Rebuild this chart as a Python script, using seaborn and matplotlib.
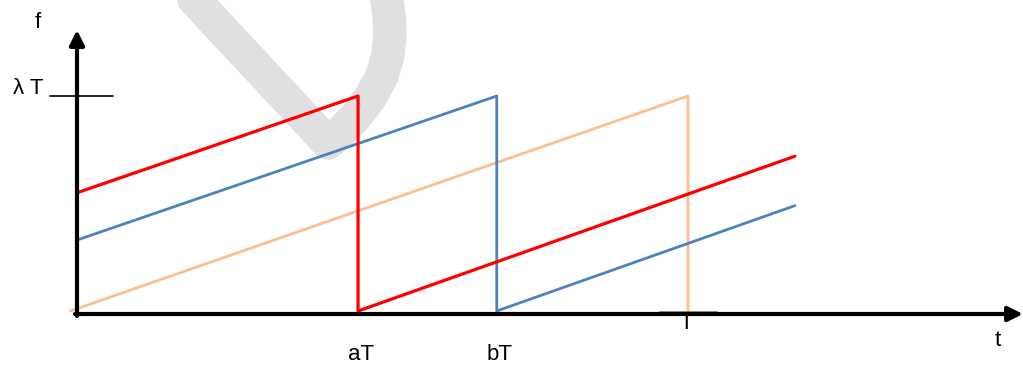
import matplotlib
matplotlib.use("Agg")
import matplotlib.pyplot as plt
import seaborn as sns
import pandas as pd
import numpy as np

# ---- data (units: t in T, f in lambda*T) ----
red_t = [0.0, 0.46, 0.46, 1.175]
red_f = [0.55, 1.0, 0.0, 0.72]
blue_t = [0.0, 0.687, 0.687, 1.175]
blue_f = [0.33, 1.0, 0.0, 0.49]
orange_t = [-0.011, 1.0, 1.0]
orange_f = [0.0, 1.0, 0.0]
x_tick_labels = ["aT", "bT", "T"]
x_tick_pos = [0.46, 0.687, 1.0]
y_tick_label = "λ T"

# watermark stroke (pixel coordinates of decoration)
wm_px = [(190, -5), (328, 143), (340, 133), (356, 116), (370, 98),
         (382, 76), (388, 55), (390, 35), (389, 15), (386, -5)]

sns.set_theme(style="white")
plt.rcParams["font.family"] = ["Liberation Sans", "DejaVu Sans"]
plt.rcParams["text.color"] = "black"

W, H = 1023, 367
fig = plt.figure(figsize=(W / 100, H / 100), dpi=100)
ax = fig.add_axes([0, 0, 1, 1])

X0, SX = 77, 611.0
Y0, SY = 311, 215.0
ax.set_xlim(-X0 / SX, (W - X0) / SX)
ax.set_ylim((Y0 - H) / SY, Y0 / SY)
ax.axis("off")

def px(x, y):
    return (x - X0) / SX, (Y0 - y) / SY

# watermark
wx, wy = zip(*[px(x, y) for x, y in wm_px])
ax.plot(wx, wy, color="#e0e0e0", lw=24, solid_capstyle="round",
        solid_joinstyle="round", zorder=0)

# series
df = pd.concat([
    pd.DataFrame({"t": red_t, "f": red_f, "s": "red"}),
    pd.DataFrame({"t": blue_t, "f": blue_f, "s": "blue"}),
    pd.DataFrame({"t": orange_t, "f": orange_f, "s": "orange"}),
])
palette = {"red": "#ff0000", "blue": "#4f81bd", "orange": "#fac090"}
sizes = {"red": 2.3, "blue": 2.0, "orange": 2.0}
for name in ["orange", "blue", "red"]:
    sub = df[df.s == name]
    sns.lineplot(data=sub, x="t", y="f", sort=False, estimator=None,
                 color=palette[name], lw=sizes[name], ax=ax, zorder=3)

# axes with arrows
ax.annotate("", xy=px(1023, 314), xytext=px(75, 314),
            arrowprops=dict(arrowstyle="-|>", lw=3, color="black",
                            mutation_scale=22, shrinkA=0, shrinkB=0), zorder=5)
ax.annotate("", xy=px(77, 30), xytext=px(77, 316),
            arrowprops=dict(arrowstyle="-|>", lw=3, color="black",
                            mutation_scale=22, shrinkA=0, shrinkB=0), zorder=5)

# lambda T tick
ax.plot([px(50, 0)[0], px(113, 0)[0]], [1.0, 1.0], color="black", lw=1.2, zorder=5)
# grey bar at T
ax.plot([px(660, 0)[0], px(716, 0)[0]], [px(0, 313)[1]] * 2, color="#888888", lw=3.5, zorder=4)

fs = 16
ax.text(*px(38, 22), "f", fontsize=fs, ha="center", va="center")
ax.text(*px(28, 88), y_tick_label, fontsize=fs, ha="center", va="center")
ax.text(*px(998, 341), "t", fontsize=fs, ha="center", va="center")
for lab, pos in zip(x_tick_labels, x_tick_pos):
    if lab == "T":
        ax.text(pos - 0.003, px(0, 313)[1], lab, fontsize=fs, ha="center", va="top", zorder=4)
    else:
        ax.text(pos + 0.005, px(0, 355)[1], lab, fontsize=fs, ha="center", va="center")

fig.savefig("out.png", dpi=100)
